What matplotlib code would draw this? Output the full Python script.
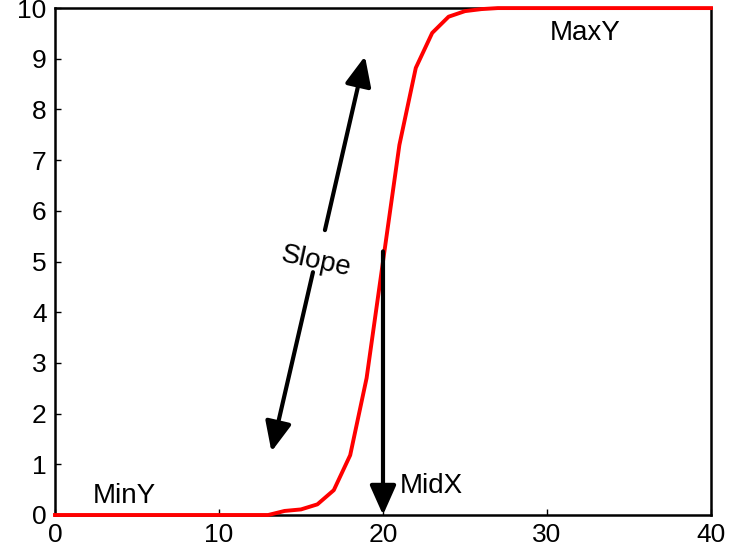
import numpy as np
import matplotlib
matplotlib.use('Agg')
import matplotlib.pyplot as plt

plt.rcParams['font.family'] = ['Liberation Sans', 'DejaVu Sans']

# curve values (integer x from 0 to 40)
x_vals = list(range(0, 41))
y_vals = [0, 0, 0, 0, 0, 0, 0, 0, 0, 0,
          0, 0, 0, 0.0, 0.08, 0.11, 0.21, 0.49, 1.18, 2.7,
          5.0, 7.3, 8.82, 9.51, 9.83, 9.94, 9.98, 10, 10, 10,
          10, 10, 10, 10, 10, 10, 10, 10, 10, 10, 10]

x_ticks = [0, 10, 20, 30, 40]
y_ticks = list(range(0, 11))

# annotation arrows (tail, head) in data units
slope_up = ((16.46, 5.62), (18.9, 9.05))
slope_down = ((15.73, 4.79), (13.2, 1.25))
midx_arrow = ((20, 5.2), (20, 0))

fig = plt.figure(figsize=(7.33, 5.54), dpi=100)
ax = fig.add_axes([0.075, 0.0704, 0.895, 0.915])

ax.plot(x_vals, y_vals, color='red', lw=2.8, clip_on=False, zorder=3)

arrow_style = dict(arrowstyle='-|>,head_length=1.8,head_width=0.8', color='black', lw=3,
                   shrinkA=0, shrinkB=0)
for tail, head in [slope_up, slope_down, midx_arrow]:
    ax.annotate('', xy=head, xytext=tail, arrowprops=arrow_style, zorder=4)

ax.text(15.9, 5.0, 'Slope', fontsize=20, rotation=-12, ha='center', va='center')
ax.text(4.2, 0.38, 'MinY', fontsize=20, ha='center', va='center')
ax.text(32.3, 9.5, 'MaxY', fontsize=20, ha='center', va='center')
ax.text(21.05, 0.57, 'MidX', fontsize=20, ha='left', va='center')

ax.set_xlim(0, 40)
ax.set_ylim(0, 10)
ax.set_xticks(x_ticks)
ax.set_yticks(y_ticks)
ax.tick_params(direction='in', length=4, width=1, labelsize=19, pad=6)
for s in ax.spines.values():
    s.set_linewidth(1.8)

fig.savefig('out.png', dpi=100)
